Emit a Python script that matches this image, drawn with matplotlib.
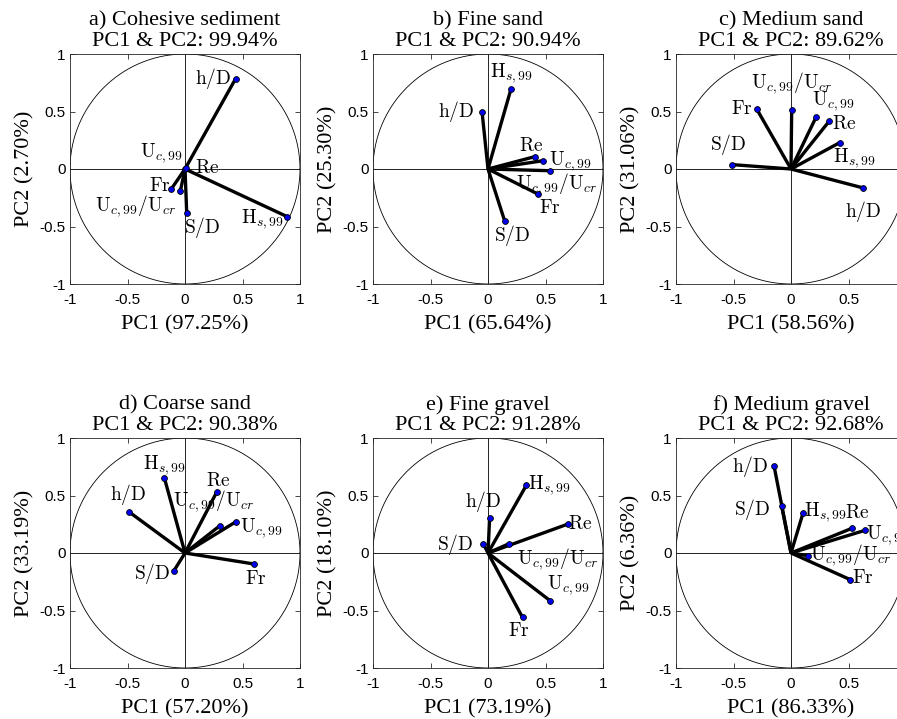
import numpy as np
import matplotlib
matplotlib.use("Agg")
import matplotlib.pyplot as plt

plt.rcParams['mathtext.fontset'] = 'cm'
plt.rcParams['font.family'] = ['Liberation Serif', 'DejaVu Serif']

# ---------------- data ----------------
variables = ["h/D", "Hs99", "S/D", "Fr", "UcUcr", "Uc99", "Re"]
var_labels = {
    "h/D": r"$\mathrm{h/D}$",
    "Hs99": r"$\mathrm{H}_{s,99}$",
    "S/D": r"$\mathrm{S/D}$",
    "Fr": r"$\mathrm{Fr}$",
    "UcUcr": r"$\mathrm{U}_{c,99}/\mathrm{U}_{cr}$",
    "Uc99": r"$\mathrm{U}_{c,99}$",
    "Re": r"$\mathrm{Re}$",
}

panel_titles = ["a) Cohesive sediment", "b) Fine sand", "c) Medium sand",
                "d) Coarse sand", "e) Fine gravel", "f) Medium gravel"]
pc12_total = ["99.94", "90.94", "89.62", "90.38", "91.28", "92.68"]
pc1_var = ["97.25", "65.64", "58.56", "57.20", "73.19", "86.33"]
pc2_var = ["2.70", "25.30", "31.06", "33.19", "18.10", "6.36"]

# loadings, order follows `variables`
pc1_a = [0.44, 0.89, 0.015, -0.12, -0.04, 0.0, 0.01]
pc2_a = [0.785, -0.415, -0.385, -0.175, -0.19, 0.0, 0.005]
pc1_b = [-0.052, 0.20, 0.145, 0.432, 0.54, 0.478, 0.406]
pc2_b = [0.50, 0.696, -0.452, -0.217, -0.015, 0.072, 0.107]
pc1_c = [0.629, 0.423, -0.51, -0.30, 0.006, 0.22, 0.333]
pc2_c = [-0.165, 0.229, 0.038, 0.525, 0.51, 0.455, 0.417]
pc1_d = [-0.49, -0.18, -0.096, 0.603, 0.304, 0.44, 0.275]
pc2_d = [0.36, 0.655, -0.154, -0.096, 0.238, 0.27, 0.528]
pc1_e = [0.014, 0.333, -0.04, 0.30, 0.183, 0.539, 0.696]
pc2_e = [0.304, 0.588, 0.078, -0.56, 0.081, -0.414, 0.252]
pc1_f = [-0.148, 0.104, -0.081, 0.516, 0.145, 0.643, 0.528]
pc2_f = [0.76, 0.345, 0.406, -0.232, -0.023, 0.197, 0.214]

pc1_all = [pc1_a, pc1_b, pc1_c, pc1_d, pc1_e, pc1_f]
pc2_all = [pc2_a, pc2_b, pc2_c, pc2_d, pc2_e, pc2_f]

ticks = [-1, -0.5, 0, 0.5, 1]
tick_labels = ["-1", "-0.5", "0", "0.5", "1"]

# label placement styles: (dx px, dy px, ha, va)
label_style = [
    {"h/D": (-4, 0, 'right', 'center'), "Hs99": (-3, -2, 'right', 'center'),
     "S/D": (-3, -2, 'left', 'top'), "Fr": (-1, 3, 'right', 'center'),
     "UcUcr": (-4, -2, 'right', 'top'), "Uc99": (-2, 4, 'right', 'bottom'),
     "Re": (9, 0, 'left', 'center')},
    {"h/D": (-8, 0, 'right', 'center'), "Hs99": (1, 4, 'center', 'bottom'),
     "S/D": (7, -2, 'center', 'top'), "Fr": (12, -5, 'center', 'top'),
     "UcUcr": (7, -1, 'center', 'top'), "Uc99": (6, 0, 'left', 'center'),
     "Re": (-4, 2, 'center', 'bottom')},
    {"h/D": (0, -11, 'center', 'top'), "Hs99": (-7, -4, 'left', 'top'),
     "S/D": (-4, 8, 'center', 'bottom'), "Fr": (-4, 0, 'right', 'center'),
     "UcUcr": (0, 14, 'center', 'bottom'), "Uc99": (-4, 4, 'left', 'bottom'),
     "Re": (3, -3, 'left', 'center')},
    {"h/D": (-1, 5, 'center', 'bottom'), "Hs99": (0, 1, 'center', 'bottom'),
     "S/D": (-4, -3, 'right', 'center'), "Fr": (1, -6, 'center', 'top'),
     "UcUcr": (-6, 12, 'center', 'bottom'), "Uc99": (4, -6, 'left', 'center'),
     "Re": (2, 2, 'center', 'bottom')},
    {"h/D": (-6, 4, 'center', 'bottom'), "Hs99": (2, 0, 'left', 'center'),
     "S/D": (-10, 0, 'right', 'center'), "Fr": (-4, -5, 'center', 'top'),
     "UcUcr": (8, -3, 'left', 'top'), "Uc99": (-3, 4, 'left', 'bottom'),
     "Re": (0, 0, 'left', 'center')},
    {"h/D": (-6, -1, 'right', 'center'), "Hs99": (1, 1, 'left', 'center'),
     "S/D": (-11, -3, 'right', 'center'), "Fr": (2, 2, 'left', 'center'),
     "UcUcr": (2, 1, 'left', 'center'), "Uc99": (1, -5, 'left', 'center'),
     "Re": (-7, 6, 'left', 'bottom')},
]

# ---------------- layout ----------------
W, H = 897, 719
fig = plt.figure(figsize=(W / 100, H / 100), dpi=100)
col_left = [70, 373, 676]
row_top = [54, 438]
size = 230

axcol = '0.15'
theta = np.linspace(0, 2 * np.pi, 400)

for i in range(6):
    r, c = divmod(i, 3)
    x0 = col_left[c] / W
    y0 = (H - row_top[r] - size) / H
    ax = fig.add_axes([x0, y0, size / W, size / H])
    ax.set_xlim(-1, 1)
    ax.set_ylim(-1, 1)

    ax.plot(np.cos(theta), np.sin(theta), color='black', lw=0.6, zorder=1)
    ax.axhline(0, color='black', lw=0.6, zorder=1)
    ax.axvline(0, color='black', lw=0.6, zorder=1)

    xs = pc1_all[i]
    ys = pc2_all[i]
    for k, v in enumerate(variables):
        ax.plot([0, xs[k]], [0, ys[k]], color='black', lw=2.4,
                solid_capstyle='butt', zorder=2)
    ax.plot(xs, ys, 'o', ls='none', ms=4.2, mfc='#0000ee', mec='black',
            mew=0.6, zorder=3)
    for k, v in enumerate(variables):
        dx, dy, ha, va = label_style[i][v]
        ax.annotate(var_labels[v], (xs[k], ys[k]), xytext=(dx, dy),
                    textcoords='offset pixels', ha=ha, va=va, fontsize=14,
                    zorder=4)

    ax.set_xticks(ticks)
    ax.set_yticks(ticks)
    ax.set_xticklabels(tick_labels, family='Liberation Sans', fontsize=11)
    ax.set_yticklabels(tick_labels, family='Liberation Sans', fontsize=11)
    ax.tick_params(direction='in', length=3.5, width=0.6, colors=axcol,
                   top=True, right=True, labelcolor='black')
    ax.tick_params(axis='x', pad=6.5)
    ax.tick_params(axis='y', pad=3)
    for s in ax.spines.values():
        s.set_color(axcol)
        s.set_linewidth(0.6)

    ax.set_title(f"{panel_titles[i]}\nPC1 & PC2: {pc12_total[i]}%",
                 fontsize=16, pad=6, linespacing=1.05)
    ax.set_xlabel(f"PC1 ({pc1_var[i]}%)", fontsize=16, labelpad=6)
    ax.set_ylabel(f"PC2 ({pc2_var[i]}%)", fontsize=16, labelpad=4)

fig.savefig("out.png", dpi=100, facecolor='white')
